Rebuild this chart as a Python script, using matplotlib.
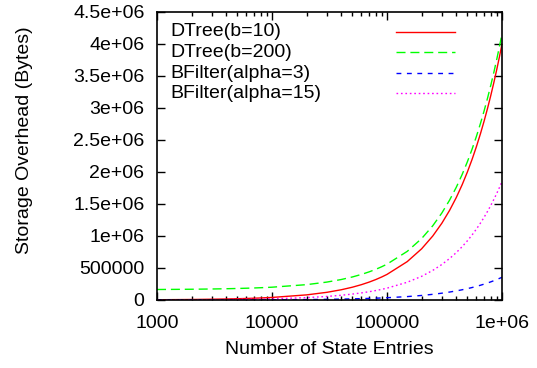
import matplotlib
matplotlib.use("Agg")
import matplotlib.pyplot as plt
from matplotlib.lines import Line2D
from matplotlib.ticker import FixedLocator, LogLocator, NullFormatter

plt.rcParams['font.family'] = ['Liberation Sans', 'DejaVu Sans']

# Number of state entries (x) and storage overhead in bytes for each scheme
entries = [1000, 2000, 3000, 4000, 5000, 6000, 7000, 8000, 9000,
           10000, 20000, 30000, 40000, 50000, 60000, 70000, 80000, 90000,
           100000, 150000, 200000, 250000, 300000, 350000, 400000, 450000,
           500000, 550000, 600000, 650000, 700000, 750000, 800000, 850000,
           900000, 950000, 1000000]
dtree_b10 = [4000, 8000, 12000, 16000, 20000, 24000, 28000, 32000, 36000,
             40000, 80000, 120000, 160000, 200000, 240000, 280000, 320000,
             360000, 400000, 600000, 800000, 1000000, 1200000, 1400000,
             1600000, 1800000, 2000000, 2200000, 2400000, 2600000, 2800000,
             3000000, 3200000, 3400000, 3600000, 3800000, 4000000]
dtree_b200 = [164000, 168000, 172000, 176000, 180000, 184000, 188000,
              192000, 196000, 200000, 240000, 280000, 320000, 360000,
              400000, 440000, 480000, 520000, 560000, 760000, 960000,
              1160000, 1360000, 1560000, 1760000, 1960000, 2160000,
              2360000, 2560000, 2760000, 2960000, 3160000, 3360000,
              3560000, 3760000, 3960000, 4160000]
bfilter_a3 = [355, 710, 1065, 1420, 1775, 2130, 2485, 2840, 3195,
              3550, 7100, 10650, 14200, 17750, 21300, 24850, 28400, 31950,
              35500, 53250, 71000, 88750, 106500, 124250, 142000, 159750,
              177500, 195250, 213000, 230750, 248500, 266250, 284000,
              301750, 319500, 337250, 355000]
bfilter_a15 = [1850, 3700, 5550, 7400, 9250, 11100, 12950, 14800, 16650,
               18500, 37000, 55500, 74000, 92500, 111000, 129500, 148000,
               166500, 185000, 277500, 370000, 462500, 555000, 647500,
               740000, 832500, 925000, 1017500, 1110000, 1202500, 1295000,
               1387500, 1480000, 1572500, 1665000, 1757500, 1850000]

series_labels = ["DTree(b=10)", "DTree(b=200)", "BFilter(alpha=3)", "BFilter(alpha=15)"]

x_ticks = [1000, 10000, 100000, 1000000]
x_tick_labels = ["1000", "10000", "100000", "1e+06"]
y_ticks = [0, 500000, 1000000, 1500000, 2000000, 2500000, 3000000,
           3500000, 4000000, 4500000]
y_tick_labels = ["0", "500000", "1e+06", "1.5e+06", "2e+06", "2.5e+06",
                 "3e+06", "3.5e+06", "4e+06", "4.5e+06"]

FS = 14

W, H = 537, 368
fig = plt.figure(figsize=(W / 100, H / 100), dpi=100)
ax = fig.add_axes([157 / W, (H - 300) / H, 345 / W, 288 / H])

styles = [
    dict(color="#ff0000", linestyle="-"),
    dict(color="#00ff00", linestyle=(0, (6.5, 3.5))),
    dict(color="#0000ff", linestyle=(0, (3.5, 4.0))),
    dict(color="#ff00ff", linestyle=(0, (1.2, 2.0))),
]
series = [dtree_b10, dtree_b200, bfilter_a3, bfilter_a15]

for vals, st in zip(series, styles):
    ax.plot(entries, vals, lw=1.0, **st)

ax.set_xscale("log")
ax.set_xlim(1000, 1000000)
ax.set_ylim(0, 4500000)

ax.xaxis.set_major_locator(FixedLocator(x_ticks))
ax.set_xticklabels(x_tick_labels)
ax.xaxis.set_minor_locator(LogLocator(base=10, subs=range(2, 10)))
ax.xaxis.set_minor_formatter(NullFormatter())
ax.yaxis.set_major_locator(FixedLocator(y_ticks))
ax.set_yticklabels(y_tick_labels)

ax.tick_params(axis="both", which="major", direction="in", length=6,
               width=1.0, top=True, right=True, labelsize=FS, colors="black")
ax.tick_params(axis="both", which="minor", direction="in", length=3,
               width=1.0, top=True, right=True)
ax.tick_params(axis="x", which="major", pad=10.5)
ax.tick_params(axis="y", which="major", pad=9)
for sp in ax.spines.values():
    sp.set_linewidth(1.2)
    sp.set_color("black")

ax.set_xlabel("Number of State Entries", fontsize=FS)
ax.xaxis.set_label_coords(0.5, -0.143)
ax.set_ylabel("Storage Overhead (Bytes)", fontsize=FS)
ax.yaxis.set_label_coords(-0.3586, 0.5556)

# Key: label text on the left, line sample on the right
row_y = [0.9316, 0.861, 0.788, 0.718]
for lab, st, yy in zip(series_labels, styles, row_y):
    ax.text(0.0377, yy, lab, transform=ax.transAxes, fontsize=FS,
            ha="left", va="center")
    ax.add_line(Line2D([0.693, 0.864], [yy, yy], transform=ax.transAxes,
                       lw=1.0, **st))

fig.savefig("out.png", dpi=100)
